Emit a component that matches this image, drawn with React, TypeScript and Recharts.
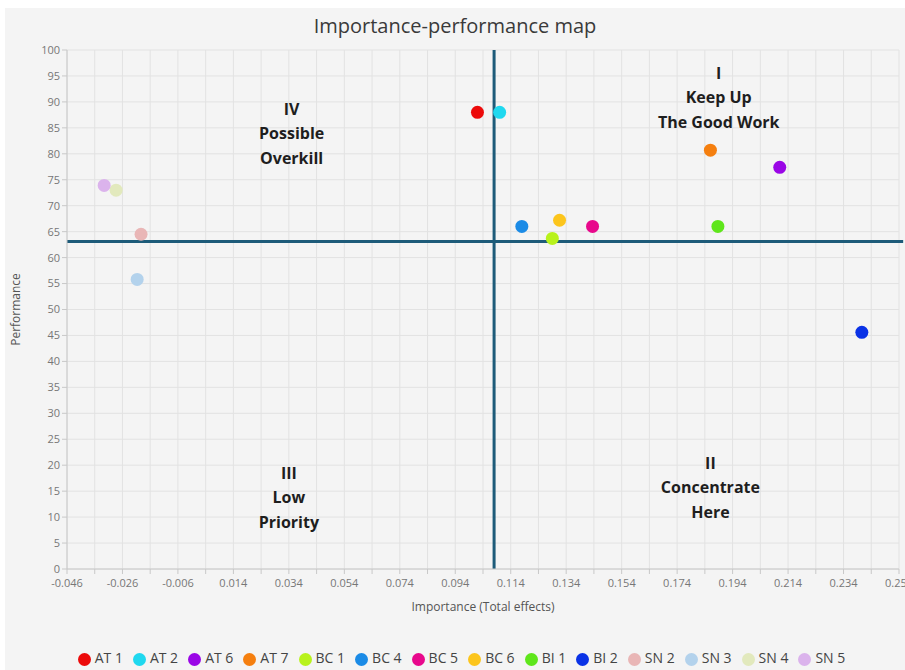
import { CartesianGrid, Legend, ReferenceDot, ReferenceLine, Scatter, ScatterChart, XAxis, YAxis } from "recharts";

const names = ["AT 1", "AT 2", "AT 6", "AT 7", "BC 1", "BC 4", "BC 5", "BC 6", "BI 1", "BI 2", "SN 2", "SN 3", "SN 4", "SN 5"];
const importance = [0.102, 0.110, 0.211, 0.186, 0.129, 0.118, 0.1435, 0.1316, 0.1887, 0.2406, -0.0193, -0.0207, -0.0283, -0.0326];
const performance = [88.0, 88.0, 77.4, 80.7, 63.7, 66.0, 66.0, 67.2, 66.0, 45.6, 64.5, 55.8, 73.0, 73.9];
const colors = ["#ec0a0a", "#1fd8ef", "#9a06e6", "#f57f0f", "#b8f21c", "#1b8be6", "#e8088c", "#fcc51c", "#5fe61b", "#0a32e6", "#e9b6b6", "#b3d2ec", "#e2e9bd", "#dbb3ec"];

const xTicks = [-0.046, -0.036, -0.026, -0.016, -0.006, 0.004, 0.014, 0.024, 0.034, 0.044, 0.054, 0.064, 0.074, 0.084, 0.094, 0.104, 0.114, 0.124, 0.134, 0.144, 0.154, 0.164, 0.174, 0.184, 0.194, 0.204, 0.214, 0.224, 0.234, 0.244, 0.254];
const yTicks = [0, 5, 10, 15, 20, 25, 30, 35, 40, 45, 50, 55, 60, 65, 70, 75, 80, 85, 90, 95, 100];

const quadX = 0.108;
const quadY = 63.1;

const quadLabels = [
  { x: 0.189, y: 90.8, lines: ["I", "Keep Up", "The Good Work"] },
  { x: 0.035, y: 83.9, lines: ["IV", "Possible", "Overkill"] },
  { x: 0.034, y: 13.7, lines: ["III", "Low", "Priority"] },
  { x: 0.186, y: 15.7, lines: ["II", "Concentrate", "Here"] },
];

const font = "'Open Sans', 'Noto Sans', sans-serif";

const QuadText = (lines: string[]) => (props: any) => {
  const { cx, cy } = props;
  return (
    <text x={cx} y={cy - 24.5} textAnchor="middle" fontFamily="'Open Sans', sans-serif" fontWeight={700} fontSize={16} fill="#1e1e1e">
      {lines.map((l, i) => (
        <tspan key={i} x={cx} y={cy - 24.5 + i * 24.5} dy="0.35em">{l}</tspan>
      ))}
    </text>
  );
};

const Dot = (props: any) => <circle cx={props.cx} cy={props.cy} r={6.5} fill={props.fill} />;

export default function App() {
  return (
    <div style={{ position: "absolute", left: 0, top: 0, width: 905, height: 670, background: "#fff" }}>
      <div style={{ position: "absolute", left: 5, top: 8, right: 0, bottom: 0, background: "#f4f4f4" }} />
      <div style={{ position: "absolute", left: 0, top: 12, width: 910, textAlign: "center", fontFamily: font, fontSize: 20, color: "#3a3a3a" }}>
        Importance-performance map
      </div>
      <div style={{ position: "absolute", left: 0, top: 0 }}>
        <ScatterChart width={905} height={670} margin={{ top: 50, right: 6, bottom: 3, left: 0 }}>
          <CartesianGrid stroke="#e2e2e2" />
          <XAxis
            type="number"
            dataKey="x"
            domain={[-0.046, 0.254]}
            ticks={xTicks}
            interval={0}
            allowDataOverflow
            height={79}
            stroke="#c8c8c8"
            tickSize={5}
            tickMargin={5}
            tick={{ fill: "#777", fontSize: 11, fontFamily: font }}
            tickFormatter={(v: number, i: number) => (i % 2 === 0 ? v.toFixed(3) : "")}
            label={{ value: "Importance (Total effects)", position: "insideTop", offset: 33, fill: "#555", fontSize: 12, fontFamily: font }}
          />
          <YAxis
            type="number"
            dataKey="y"
            domain={[0, 100]}
            ticks={yTicks}
            interval={0}
            width={67}
            stroke="#c8c8c8"
            tickSize={5}
            tick={{ fill: "#777", fontSize: 11, fontFamily: font }}
            label={{ value: "Performance", angle: -90, position: "insideLeft", offset: 16, textAnchor: "middle", fill: "#555", fontSize: 12, fontFamily: font }}
          />
          <ReferenceLine x={quadX} stroke="#1d5b79" strokeWidth={3} />
          <ReferenceLine
            segment={[{ x: -0.046, y: quadY }, { x: 0.2555, y: quadY }]}
            stroke="#1d5b79"
            strokeWidth={3}
            ifOverflow="visible"
          />
          {quadLabels.map((q, i) => (
            <ReferenceDot key={i} x={q.x} y={q.y} r={0} ifOverflow="visible" shape={QuadText(q.lines)} />
          ))}
          {names.map((n, i) => (
            <Scatter
              key={n}
              name={n}
              data={[{ x: importance[i], y: performance[i] }]}
              fill={colors[i]}
              shape={Dot}
              isAnimationActive={false}
            />
          ))}
          <Legend
            verticalAlign="bottom"
            iconType="circle"
            iconSize={13}
            wrapperStyle={{ fontFamily: font, fontSize: 14, paddingLeft: 34, boxSizing: "border-box" }}
            formatter={(v: string) => <span style={{ color: "#444" }}>{v}</span>}
          />
        </ScatterChart>
      </div>
    </div>
  );
}
